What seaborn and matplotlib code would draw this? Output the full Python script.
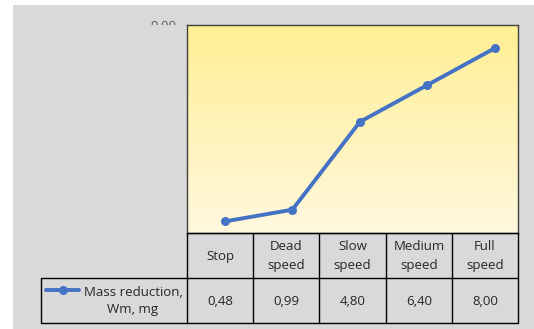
import numpy as np
import pandas as pd
import seaborn as sns
import matplotlib.pyplot as plt
from matplotlib.patches import Rectangle
from matplotlib.lines import Line2D
from matplotlib.transforms import Bbox, TransformedBbox, IdentityTransform

# --- data ---
categories = ["Stop", "Dead\nspeed", "Slow\nspeed", "Medium\nspeed", "Full\nspeed"]
mass_reduction = [0.48, 0.99, 4.80, 6.40, 8.00]
series_label = "Mass reduction,\nWm, mg"
y_max = 9.0

W, H = 534, 329
DPI = 100
FONT = ["Open Sans", "DejaVu Sans"]
FS = 9.5

sns.set_theme(style="white")
plt.rcParams["font.family"] = FONT

fig = plt.figure(figsize=(W / DPI, H / DPI), dpi=DPI)
fig.patch.set_facecolor("white")


def fx(px):
    return px / W


def fy(py):
    return 1 - py / H


# grey chart area
fig.add_artist(Rectangle((fx(13), 0), 1 - fx(13), fy(5), transform=fig.transFigure,
                         facecolor="#d9d9d9", edgecolor="none", zorder=0))

# plot area
pl, pr, pt, pb = 187, 518, 25, 232.5
ax = fig.add_axes([fx(pl), fy(pb), fx(pr) - fx(pl), fy(pt) - fy(pb)])
ax.set_zorder(2)

df = pd.DataFrame({"x": np.arange(len(categories)), "value": mass_reduction})
xlim = (-0.56, 4.34)

# vertical yellow gradient, deeper at the top
grad = np.linspace(0, 1, 256).reshape(-1, 1)
top = np.array([255, 239, 148]) / 255
bot = np.array([255, 248, 222]) / 255
img = top[None, None, :] * (1 - grad[:, :, None]) + bot[None, None, :] * grad[:, :, None]
ax.imshow(img, extent=[xlim[0], xlim[1], 0, y_max], aspect="auto", zorder=0,
          origin="upper")

sns.lineplot(data=df, x="x", y="value", ax=ax, color="#4472c4", linewidth=2.8,
             marker="o", markersize=6.5, markeredgewidth=0, zorder=3)
ax.set_xlim(*xlim)
ax.set_ylim(0, y_max)
ax.set_xticks([])
ax.set_yticks([])
ax.set_xlabel("")
ax.set_ylabel("")
for s in ax.spines.values():
    s.set_visible(True)
    s.set_color("#404040")
    s.set_linewidth(1.0)

# partially hidden top axis label
lbl = fig.text(fx(176), fy(20.5), f"{y_max:.2f}".replace(".", ","), ha="right", va="top",
               fontsize=FS, color="#595959", family=FONT)
lbl.set_clip_box(TransformedBbox(Bbox([[0, H - 25.3], [W, H]]), IdentityTransform()))
lbl.set_clip_on(True)

# data table
cols = [187, 253, 319, 386, 452, 518]
row_top, row_mid, row_bot = 232.5, 278, 323
leg_left = 41


def hline(x0, x1, y):
    fig.add_artist(Line2D([fx(x0), fx(x1)], [fy(y), fy(y)], transform=fig.transFigure,
                          color="black", linewidth=1.0, zorder=3))


def vline(x, y0, y1):
    fig.add_artist(Line2D([fx(x), fx(x)], [fy(y0), fy(y1)], transform=fig.transFigure,
                          color="black", linewidth=1.0, zorder=3))


hline(cols[0], cols[-1], row_top)
hline(leg_left, cols[-1], row_mid)
hline(leg_left, cols[-1], row_bot)
for c in cols:
    vline(c, row_top, row_bot)
vline(leg_left, row_mid, row_bot)

tcolor = "#262626"
for i, cat in enumerate(categories):
    cx = (cols[i] + cols[i + 1]) / 2
    fig.text(fx(cx), fy((row_top + row_mid) / 2 + 1), cat, ha="center", va="center",
             fontsize=FS, color=tcolor, linespacing=1.6)
    fig.text(fx(cx), fy((row_mid + row_bot) / 2 + 1),
             f"{mass_reduction[i]:.2f}".replace(".", ","), ha="center", va="center",
             fontsize=FS, color=tcolor)

# legend key inside the table
fig.add_artist(Line2D([fx(46), fx(79)], [fy(290), fy(290)], transform=fig.transFigure,
                      color="#4472c4", linewidth=2.8, zorder=4))
fig.add_artist(Line2D([fx(62.5)], [fy(290)], transform=fig.transFigure, color="#4472c4",
                      marker="o", markersize=6.5, markeredgewidth=0, zorder=5))
fig.text(fx(133), fy(301), series_label, ha="center", va="center", fontsize=FS,
         color=tcolor, linespacing=1.45)

fig.savefig("out.png", dpi=DPI)
